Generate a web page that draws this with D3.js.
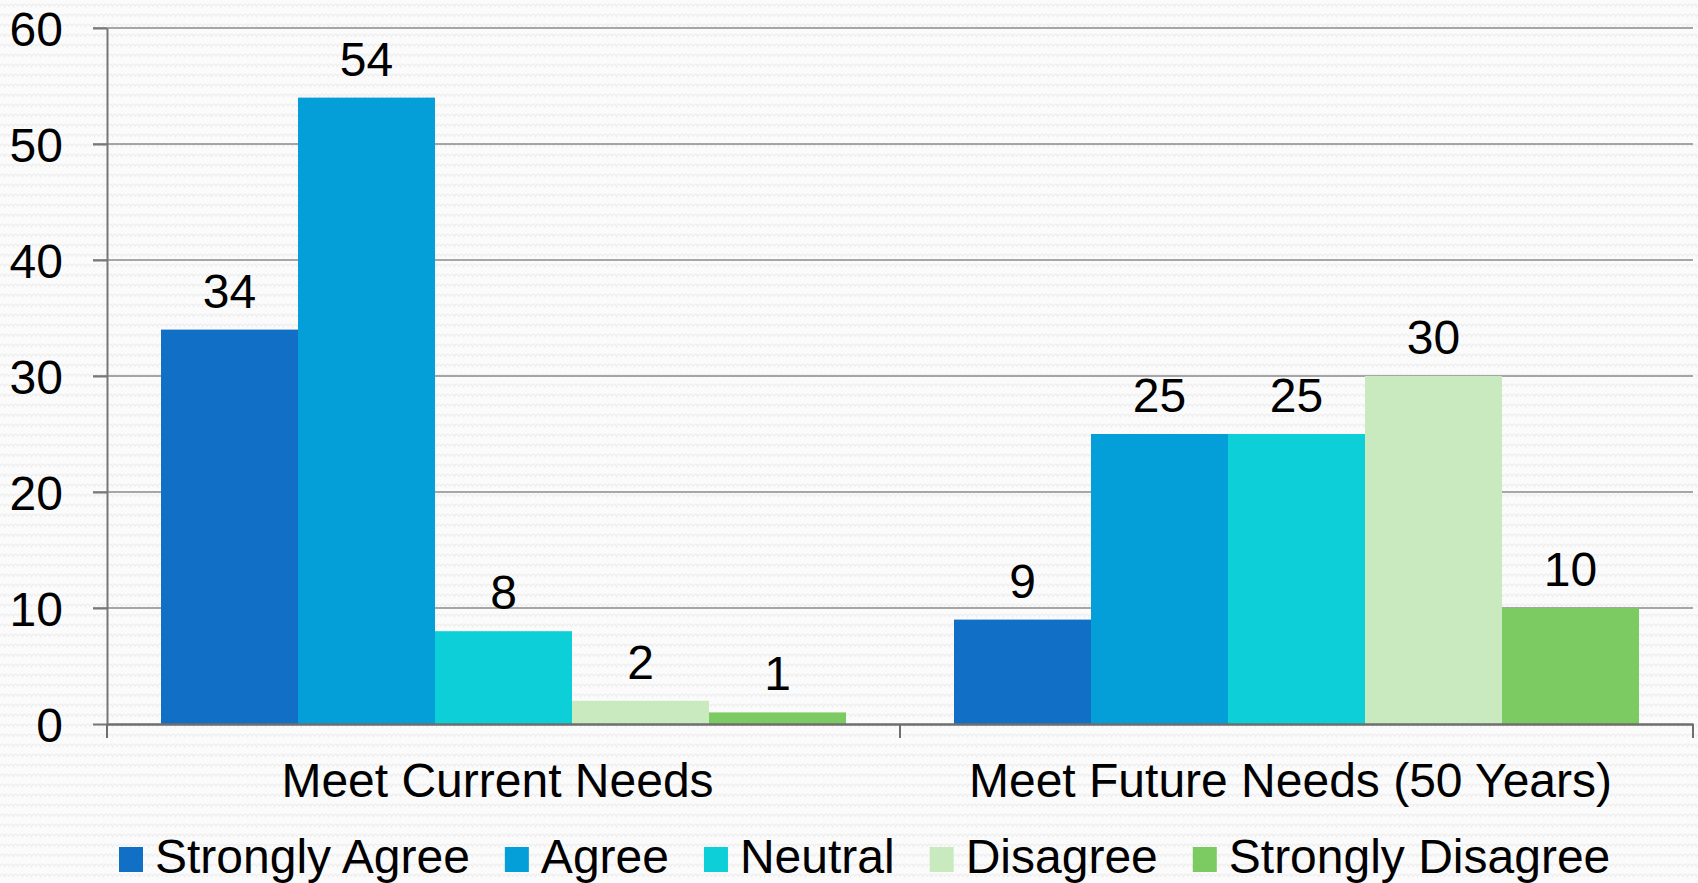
<!DOCTYPE html>
<html><head><meta charset="utf-8">
<script src="https://cdn.jsdelivr.net/npm/d3@7"></script>
<style>
html,body{margin:0;padding:0;background:#fff;}
svg{display:block;font-family:"Liberation Sans",Arial,sans-serif;}
</style></head>
<body>
<svg id="chart" width="1698" height="883"></svg>
<script>
const categories = ["Meet Current Needs", "Meet Future Needs (50 Years)"];
const seriesNames = ["Strongly Agree", "Agree", "Neutral", "Disagree", "Strongly Disagree"];
const currentValues = [34, 54, 8, 2, 1];
const futureValues = [9, 25, 25, 30, 10];
const seriesColors = ["#116fc5", "#049fd9", "#0ccfd8", "#c9e9bf", "#7ccb62"];
const yTicks = [0, 10, 20, 30, 40, 50, 60];

(function () {
const valuesByCategory = [currentValues, futureValues];

const svg = d3.select("#chart");
const W = 1698, H = 883;

// background pattern
const defs = svg.append("defs");
const pat = defs.append("pattern").attr("id","bgp").attr("patternUnits","userSpaceOnUse")
  .attr("width", 9).attr("height", 10);
pat.append("rect").attr("width",9).attr("height",10).attr("fill","#fbfbfb");
pat.append("path").attr("d","M0,6.5 Q2.25,1.5 4.5,6.5 Q6.75,1.5 9,6.5")
  .attr("fill","none").attr("stroke","#ededed").attr("stroke-width",1.2);
svg.append("rect").attr("width",W).attr("height",H).attr("fill","url(#bgp)");

const mLeft = 107, mRight = 1693, mTop = 28, mBottom = 724;
const fontSize = 48;

const x0 = d3.scaleBand().domain(categories).range([mLeft, mRight]).padding(0);
const groupPad = 54;
const x1 = d3.scaleBand().domain(seriesNames).range([groupPad, x0.bandwidth() - groupPad]).padding(0);
const y = d3.scaleLinear().domain([0, 60]).range([mBottom, mTop]);

// gridlines
svg.append("g").selectAll("line").data(yTicks.filter(d => d > 0)).join("line")
  .attr("x1", mLeft - 14).attr("x2", mRight)
  .attr("y1", d => y(d)).attr("y2", d => y(d))
  .attr("stroke", "#8a8a8a").attr("stroke-width", 1.6);

// y axis
const yAxis = svg.append("g").attr("transform", `translate(${mLeft},0)`)
  .call(d3.axisLeft(y).tickValues(yTicks).tickSize(14).tickPadding(30).tickSizeOuter(0));
yAxis.select(".domain").attr("stroke", "#777").attr("stroke-width", 2);
yAxis.selectAll(".tick line").attr("stroke", "#777").attr("stroke-width", 2);
yAxis.selectAll(".tick text").attr("font-size", fontSize).attr("fill", "#000")
  .attr("font-family", "Liberation Sans, Arial, sans-serif").attr("dy", "0.36em");

// bars
const groups = svg.append("g").selectAll("g").data(categories).join("g")
  .attr("transform", d => `translate(${x0(d)},0)`);
groups.each(function(cat, ci) {
  const g = d3.select(this);
  const vals = valuesByCategory[ci];
  g.selectAll("rect").data(seriesNames).join("rect")
    .attr("x", s => x1(s)).attr("width", x1.bandwidth())
    .attr("y", (s, i) => y(vals[i])).attr("height", (s, i) => y(0) - y(vals[i]))
    .attr("fill", (s, i) => seriesColors[i]);
  g.selectAll("text").data(seriesNames).join("text")
    .attr("x", s => x1(s) + x1.bandwidth() / 2)
    .attr("y", (s, i) => y(vals[i]) - 22)
    .attr("text-anchor", "middle").attr("font-size", fontSize).attr("fill", "#000")
    .text((s, i) => vals[i]);
});

// x axis
const xAxis = svg.append("g").attr("transform", `translate(0,${mBottom})`)
  .call(d3.axisBottom(x0).tickSize(0).tickPadding(0).tickFormat(""));
xAxis.select(".domain").attr("stroke", "#6e6e6e").attr("stroke-width", 2.4);
xAxis.selectAll(".tick").remove();
const bounds = [mLeft, ...categories.map(c => x0(c) + x0.bandwidth())];
svg.append("g").selectAll("line").data(bounds).join("line")
  .attr("x1", d => d).attr("x2", d => d).attr("y1", mBottom).attr("y2", mBottom + 14)
  .attr("stroke", "#6e6e6e").attr("stroke-width", 2);
svg.append("g").selectAll("text").data(categories).join("text")
  .attr("x", d => x0(d) + x0.bandwidth() / 2 - 6).attr("y", 797)
  .attr("text-anchor", "middle").attr("font-size", fontSize).attr("fill", "#000")
  .text(d => d);

// legend
const legend = svg.append("g");
let lx = 119;
seriesNames.forEach((s, i) => {
  legend.append("rect").attr("x", lx).attr("y", 847).attr("width", 24).attr("height", 25)
    .attr("fill", seriesColors[i]);
  const t = legend.append("text").attr("x", lx + 36).attr("y", 873)
    .attr("font-size", fontSize).attr("fill", "#000").text(s);
  lx += 36 + t.node().getComputedTextLength() + 35;
});
})();
</script>
</body></html>
